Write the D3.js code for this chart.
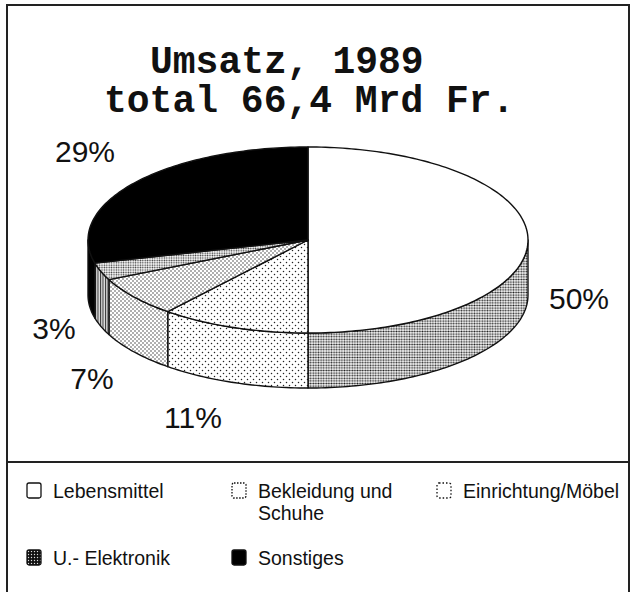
<!DOCTYPE html>
<html>
<head>
<meta charset="utf-8">
<script src="https://cdn.jsdelivr.net/npm/d3@7"></script>
<style>
  body { margin: 0; background: #fff; }
  .pctLabel { font-family: "Liberation Sans", Arial, sans-serif; font-size: 30px; fill: #111; }
  .legendText { font-family: "Liberation Sans", Arial, sans-serif; font-size: 19.5px; fill: #111; }
  .title { font-family: "Liberation Mono", "Courier New", monospace; font-size: 38px; font-weight: bold; fill: #111; }
</style>
</head>
<body>
<div class="pie"></div>
<script>
// Data
var categories = ["Lebensmittel", "Bekleidung und Schuhe", "Einrichtung/Möbel", "U.- Elektronik", "Sonstiges"];
var shares = [50, 11, 7, 3, 29];
var pctLabels = ["50%", "11%", "7%", "3%", "29%"];
var titleLines = ["Umsatz, 1989", "total 66,4 Mrd Fr."];

var svgWidth = 633;
var svgHeight = 592;

// pie geometry
var cx = 308, cy = 240, rx = 220, ry = 93, depth = 55;

var svg = d3.select(".pie")
  .append("svg")
  .attr("width", svgWidth)
  .attr("height", svgHeight);

// Patterns for the scanned screen tones
var defs = svg.append("defs");

function dotPattern(id, size, dots, r, bg, fg) {
  var p = defs.append("pattern")
    .attr("id", id)
    .attr("patternUnits", "userSpaceOnUse")
    .attr("width", size)
    .attr("height", size);
  p.append("rect").attr("width", size).attr("height", size).attr("fill", bg);
  dots.forEach(function(d) {
    p.append("circle").attr("cx", d[0]).attr("cy", d[1]).attr("r", r).attr("fill", fg);
  });
}

dotPattern("toneSide", 2.6, [[1.3, 1.3]], 0.95, "#fff", "#222");
dotPattern("toneSparse", 6, [[1.5, 1.5], [4.5, 4.5]], 0.75, "#fff", "#222");
dotPattern("toneDense", 4, [[1, 1], [3, 3]], 0.7, "#fff", "#222");
dotPattern("toneFine", 2.4, [[1.2, 1.2]], 0.8, "#fff", "#333");
dotPattern("toneDark", 3, [[1.5, 1.5]], 0.7, "#111", "#ddd");

var stripes = defs.append("pattern")
  .attr("id", "toneStripes")
  .attr("patternUnits", "userSpaceOnUse")
  .attr("width", 2.5)
  .attr("height", 3);
stripes.append("rect").attr("width", 2.5).attr("height", 3).attr("fill", "#ddd");
stripes.append("rect").attr("width", 1).attr("height", 3).attr("fill", "#333");

var topFill = ["#fff", "url(#toneSparse)", "url(#toneDense)", "url(#toneFine)", "#000"];
var sideFill = ["url(#toneSide)", "url(#toneSparse)", "url(#toneDense)", "url(#toneStripes)", "#000"];
var legendFill = ["#fff", "#fff", "#fff", "url(#toneDark)", "#000"];
var legendDash = [null, "1.5,1.5", "1.5,2", null, null];

// Frame
svg.append("rect")
  .attr("x", 7).attr("y", 5)
  .attr("width", 622).attr("height", 620)
  .attr("fill", "none")
  .attr("stroke", "#222")
  .attr("stroke-width", 2);

svg.append("line")
  .attr("x1", 7).attr("x2", 630)
  .attr("y1", 462).attr("y2", 462)
  .attr("stroke", "#222")
  .attr("stroke-width", 2);

// Title
svg.selectAll(".title")
  .data(titleLines)
  .enter()
  .append("text")
  .classed("title", true)
  .attr("x", (d, i) => i === 0 ? 150 : 104)
  .attr("y", (d, i) => 73 + i * 39)
  .attr("xml:space", "preserve")
  .text(d => d);

// Pie angles
var pie = d3.pie().sort(null).value(d => d);
var arcs = pie(shares);

function ept(a, dy) {
  return [cx + rx * Math.sin(a), cy - ry * Math.cos(a) + (dy || 0)];
}

function sampleAngles(a0, a1) {
  var n = Math.max(2, Math.ceil(Math.abs(a1 - a0) / 0.02));
  return d3.range(n + 1).map(i => a0 + (a1 - a0) * i / n);
}

var line = d3.line();

// Step 1: side walls (only the front half is visible)
var pieGroup = svg.append("g");

arcs.forEach(function(d, i) {
  var a0 = Math.max(d.startAngle, Math.PI / 2);
  var a1 = Math.min(d.endAngle, Math.PI * 1.5);
  if (a1 <= a0) return;
  var angles = sampleAngles(a0, a1);
  var pts = angles.map(a => ept(a, 0))
    .concat(angles.slice().reverse().map(a => ept(a, depth)));
  pieGroup.append("path")
    .attr("d", line(pts) + "Z")
    .attr("fill", sideFill[i])
    .attr("stroke", "#111")
    .attr("stroke-width", 1.4)
    .attr("stroke-linejoin", "round");
});

// Step 2: top slices
arcs.forEach(function(d, i) {
  var pts = [[cx, cy]].concat(sampleAngles(d.startAngle, d.endAngle).map(a => ept(a, 0)));
  pieGroup.append("path")
    .attr("d", line(pts) + "Z")
    .attr("fill", topFill[i])
    .attr("stroke", "#111")
    .attr("stroke-width", 1.4)
    .attr("stroke-linejoin", "round");
});

// Step 3: percentage labels
var labelPos = [[579, 309], [193, 428], [92, 389], [54, 339], [85, 162]];

svg.selectAll(".pctLabel")
  .data(pctLabels)
  .enter()
  .append("text")
  .classed("pctLabel", true)
  .attr("x", (d, i) => labelPos[i][0])
  .attr("y", (d, i) => labelPos[i][1])
  .attr("text-anchor", "middle")
  .text(d => d);

// Step 4: legend
var legendPos = [[27, 498], [232, 498], [437, 498], [27, 565], [232, 565]];

var legend = svg.selectAll(".legendItem")
  .data(categories)
  .enter()
  .append("g")
  .attr("class", "legendItem")
  .attr("transform", (d, i) => `translate(${legendPos[i][0]}, ${legendPos[i][1]})`);

legend.append("rect")
  .attr("x", 0).attr("y", -15)
  .attr("width", 14).attr("height", 15)
  .attr("rx", 2)
  .attr("fill", (d, i) => legendFill[i])
  .attr("stroke", "#111")
  .attr("stroke-width", 1.3)
  .attr("stroke-dasharray", (d, i) => legendDash[i]);

legend.append("text")
  .classed("legendText", true)
  .attr("x", 26)
  .attr("y", 0)
  .each(function(d) {
    var t = d3.select(this);
    var parts = d === "Bekleidung und Schuhe" ? ["Bekleidung und", "Schuhe"] : [d];
    parts.forEach(function(p, k) {
      t.append("tspan").attr("x", 26).attr("dy", k === 0 ? 0 : 22).text(p);
    });
  });
</script>
</body>
</html>
